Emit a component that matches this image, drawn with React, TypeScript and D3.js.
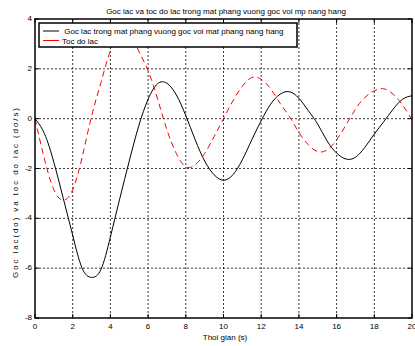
import { useEffect, useRef } from 'react'
import * as d3 from 'd3'

// thoi gian (s), buoc 0.5 s
const thoiGian = [
  0, 0.5, 1, 1.5, 2, 2.5, 3, 3.5, 4, 4.5, 5, 5.5, 6, 6.5, 7, 7.5, 8, 8.5, 9, 9.5,
  10, 10.5, 11, 11.5, 12, 12.5, 13, 13.5, 14, 14.5, 15, 15.5, 16, 16.5, 17, 17.5, 18, 18.5, 19, 19.5, 20,
]

// goc lac (do)
const gocLac = [
  0, -0.6, -1.75, -3.2, -4.68, -6.0, -6.37, -6.05, -4.75, -3.2, -1.7, -0.3, 0.78, 1.4, 1.42, 0.95, 0.12, -0.85, -1.7, -2.25,
  -2.47, -2.25, -1.65, -0.85, -0.08, 0.58, 0.98, 1.08, 0.82, 0.32, -0.22, -0.9, -1.38, -1.62, -1.55, -1.15, -0.62, -0.12, 0.38, 0.78, 0.92,
]

// toc do lac (do/s)
const tocDoLac = [
  0, -1.62, -2.85, -3.27, -2.85, -1.55, 0.1, 1.45, 2.72, 3.3, 3.35, 2.72, 1.92, 0.8, -0.45, -1.4, -1.93, -1.85, -1.4, -0.72,
  0, 0.72, 1.3, 1.65, 1.58, 1.2, 0.62, 0.08, -0.55, -1.05, -1.32, -1.25, -0.85, -0.25, 0.38, 0.85, 1.12, 1.2, 0.98, 0.55, -0.05,
]

const xTicks = [0, 2, 4, 6, 8, 10, 12, 14, 16, 18, 20]
const yTicks = [-8, -6, -4, -2, 0, 2, 4]

const legendLabels = [' Goc lac trong mat phang vuong goc voi mat phang nang hang', 'Toc do lac']

const FONT = '"Liberation Sans", Arial, Helvetica, sans-serif'

export default function App() {
  const svgRef = useRef<SVGSVGElement>(null)

  useEffect(() => {
    if (!svgRef.current) return
    const W = 415
    const H = 346
    const m = { left: 35, right: 412, top: 19, bottom: 318 }

    const svg = d3.select(svgRef.current)
    svg.selectAll('*').remove()
    svg.attr('width', W).attr('height', H)

    svg.append('rect').attr('width', W).attr('height', H).attr('fill', '#fff')

    const x = d3.scaleLinear().domain([0, 20]).range([m.left, m.right])
    const y = d3.scaleLinear().domain([-8, 4]).range([m.bottom, m.top])

    svg.append('defs').append('clipPath').attr('id', 'plotClip')
      .append('rect')
      .attr('x', m.left).attr('y', m.top)
      .attr('width', m.right - m.left).attr('height', m.bottom - m.top)

    // Grid (dotted)
    const grid = svg.append('g').attr('stroke', '#222').attr('stroke-width', 0.9).attr('stroke-dasharray', '2,2')
    xTicks.slice(1, -1).forEach(t => {
      grid.append('line').attr('x1', x(t)).attr('x2', x(t)).attr('y1', m.top).attr('y2', m.bottom)
    })
    yTicks.slice(1, -1).forEach(t => {
      grid.append('line').attr('x1', m.left).attr('x2', m.right).attr('y1', y(t)).attr('y2', y(t))
    })

    // Ticks (inward, all sides)
    const ticks = svg.append('g').attr('stroke', '#000').attr('stroke-width', 1)
    xTicks.forEach(t => {
      ticks.append('line').attr('x1', x(t)).attr('x2', x(t)).attr('y1', m.bottom).attr('y2', m.bottom - 4)
      ticks.append('line').attr('x1', x(t)).attr('x2', x(t)).attr('y1', m.top).attr('y2', m.top + 4)
    })
    yTicks.forEach(t => {
      ticks.append('line').attr('x1', m.left).attr('x2', m.left + 4).attr('y1', y(t)).attr('y2', y(t))
      ticks.append('line').attr('x1', m.right).attr('x2', m.right - 4).attr('y1', y(t)).attr('y2', y(t))
    })

    // Curves
    const line = d3.line<number>()
      .x((_, i) => x(thoiGian[i]))
      .y(d => y(d))
      .curve(d3.curveNatural)

    const curves = svg.append('g').attr('clip-path', 'url(#plotClip)').attr('fill', 'none')
    curves.append('path').attr('d', line(gocLac)).attr('stroke', '#000').attr('stroke-width', 1)
    curves.append('path').attr('d', line(tocDoLac)).attr('stroke', '#ff0000').attr('stroke-width', 1)
      .attr('stroke-dasharray', '6,4')

    // Axes frame
    svg.append('rect')
      .attr('x', m.left).attr('y', m.top)
      .attr('width', m.right - m.left).attr('height', m.bottom - m.top)
      .attr('fill', 'none').attr('stroke', '#000').attr('stroke-width', 1.5)

    // Tick labels
    xTicks.forEach(t => {
      svg.append('text')
        .attr('x', x(t)).attr('y', 329)
        .attr('text-anchor', 'middle')
        .attr('font-family', FONT).attr('font-size', '8px').attr('fill', '#000')
        .text(t)
    })
    yTicks.forEach(t => {
      svg.append('text')
        .attr('x', 32).attr('y', y(t) + 2)
        .attr('text-anchor', 'end')
        .attr('font-family', FONT).attr('font-size', '8px').attr('fill', '#000')
        .text(t)
    })

    // Titles
    svg.append('text')
      .attr('x', 226).attr('y', 14)
      .attr('text-anchor', 'middle')
      .attr('font-family', FONT).attr('font-size', '8px').attr('fill', '#000')
      .text('Goc lac va toc do lac trong mat phang vuong goc voi mp nang hang')

    svg.append('text')
      .attr('x', 225).attr('y', 340)
      .attr('text-anchor', 'middle')
      .attr('font-family', FONT).attr('font-size', '8px').attr('fill', '#000')
      .text('Thoi gian (s)')

    svg.append('text')
      .attr('transform', 'translate(18,193) rotate(-90)')
      .attr('text-anchor', 'middle')
      .attr('font-family', FONT).attr('font-size', '8px').attr('fill', '#000')
      .attr('textLength', 170).attr('lengthAdjust', 'spacing')
      .text('Goc lac(do) va toc do lac (do/s)')

    // Legend
    const lg = svg.append('g')
    lg.append('rect')
      .attr('x', 39).attr('y', 23).attr('width', 258).attr('height', 24)
      .attr('fill', '#fff').attr('stroke', '#000').attr('stroke-width', 1.5)
    const legendColors = ['#000', '#ff0000']
    legendLabels.forEach((label, i) => {
      const ly = 31 + i * 9.5
      lg.append('line')
        .attr('x1', 43).attr('x2', 59).attr('y1', ly).attr('y2', ly)
        .attr('stroke', legendColors[i]).attr('stroke-width', 1)
      lg.append('text')
        .attr('x', 62).attr('y', ly + 3)
        .attr('font-family', FONT).attr('font-size', '8px').attr('fill', '#000')
        .style('white-space', 'pre')
        .text(label)
    })
  }, [])

  return (
    <div style={{ position: 'absolute', left: 0, top: 0 }}>
      <svg ref={svgRef} style={{ display: 'block' }} />
    </div>
  )
}
